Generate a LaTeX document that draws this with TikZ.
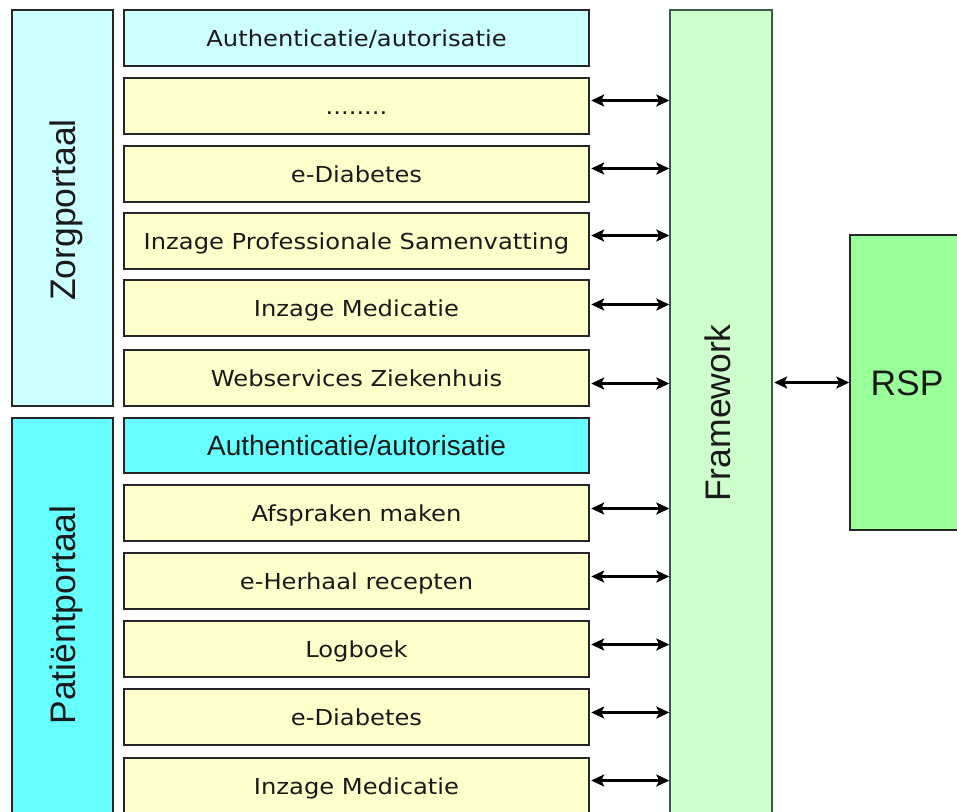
\documentclass[tikz,border=0pt]{standalone}
\usepackage{fontspec}
\setmainfont{Liberation Sans}
\newfontfamily\verd[FakeStretch=1.1]{DejaVu Sans}
\usetikzlibrary{arrows.meta}

\definecolor{ink}{HTML}{1A1A1A}
\definecolor{edge}{HTML}{262626}
\definecolor{fwedge}{HTML}{3F5A44}
\definecolor{paleCyan}{HTML}{CCFFFF}
\definecolor{brightCyan}{HTML}{66FFFF}
\definecolor{rowfill}{HTML}{FFFFCC}
\definecolor{paleGreen}{HTML}{CCFFCC}
\definecolor{rspGreen}{HTML}{99FF99}

\tikzset{
  box/.style={draw=edge, line width=1.4pt, inner sep=0pt, text=ink},
  rowbox/.style={box, fill=rowfill, minimum width=465pt, minimum height=56pt,
    font=\verd\fontsize{22}{26}\selectfont, text height=16pt, text depth=0pt},
  authbox/.style={rowbox, fill=paleCyan},
  authboxB/.style={box, fill=brightCyan, minimum width=465pt, minimum height=55pt,
    font=\fontsize{28}{32}\selectfont, text height=20pt, text depth=0pt},
  biglabel/.style={text=ink, inner sep=0pt, font=\fontsize{35.5}{40}\selectfont,
    text height=25pt, text depth=0pt},
  tip/.tip={Stealth[length=13pt,width=12pt,inset=3pt]},
  biarrow/.style={tip-tip, line width=2.6pt, draw=black, shorten <=1.5pt},
}

\begin{document}
\begin{tikzpicture}[x=1pt,y=-1pt]
\clip (0,0) rectangle (957,811);
\fill[white] (0,0) rectangle (957,811);

% portal columns
\node[box, fill=paleCyan, minimum width=101pt, minimum height=396pt] (zorg) at (62.5,208) {};
\node[box, fill=brightCyan, minimum width=101pt, minimum height=412pt] (pat) at (62.5,624) {};
\node[biglabel, rotate=90] (zorglbl) at (62.5,210) {Zorgportaal};
\node[biglabel, rotate=90] (patlbl) at (62.5,615) {Patiëntportaal};

% framework and RSP
\node[draw=fwedge, line width=1.4pt, fill=paleGreen, inner sep=0pt,
      minimum width=102pt, minimum height=820pt] (fw) at (721,420) {};
\node[biglabel, rotate=90] (fwlbl) at (718,413) {Framework};
\node[box, fill=rspGreen, minimum width=114pt, minimum height=295pt,
      font=\fontsize{35.5}{40}\selectfont, text height=25pt, text depth=0pt] (rsp) at (907,382.5) {RSP};

% Zorgportaal services
\node[authbox] (z1) at (356.5,38) {Authenticatie/autorisatie};
\node[rowbox]  (z2) at (356.5,106) {........};
\node[rowbox]  (z3) at (356.5,174) {e-Diabetes};
\node[rowbox]  (z4) at (356.5,241) {Inzage Professionale Samenvatting};
\node[rowbox]  (z5) at (356.5,308) {Inzage Medicatie};
\node[rowbox]  (z6) at (356.5,378) {Webservices Ziekenhuis};

% Patientportaal services
\node[authboxB] (p1) at (356.5,445.5) {Authenticatie/autorisatie};
\node[rowbox]  (p2) at (356.5,513) {Afspraken maken};
\node[rowbox]  (p3) at (356.5,581) {e-Herhaal recepten};
\node[rowbox]  (p4) at (356.5,649) {Logboek};
\node[rowbox]  (p5) at (356.5,717) {e-Diabetes};
\node[rowbox]  (p6) at (356.5,786) {Inzage Medicatie};

% links to the framework, at the height of each arrow
\draw[biarrow] (z2.east |- 0,100.5) -- (fw.west |- 0,100.5);
\draw[biarrow] (z3.east |- 0,168.5) -- (fw.west |- 0,168.5);
\draw[biarrow] (z4.east |- 0,235.5) -- (fw.west |- 0,235.5);
\draw[biarrow] (z5.east |- 0,304.5) -- (fw.west |- 0,304.5);
\draw[biarrow] (z6.east |- 0,383.5) -- (fw.west |- 0,383.5);
\draw[biarrow] (p2.east |- 0,508.5) -- (fw.west |- 0,508.5);
\draw[biarrow] (p3.east |- 0,576.5) -- (fw.west |- 0,576.5);
\draw[biarrow] (p4.east |- 0,644.5) -- (fw.west |- 0,644.5);
\draw[biarrow] (p5.east |- 0,712.5) -- (fw.west |- 0,712.5);
\draw[biarrow] (p6.east |- 0,780.5) -- (fw.west |- 0,780.5);

% framework to RSP
\draw[biarrow] (rsp.west -| fw.east) -- (rsp.west);
\end{tikzpicture}
\end{document}
